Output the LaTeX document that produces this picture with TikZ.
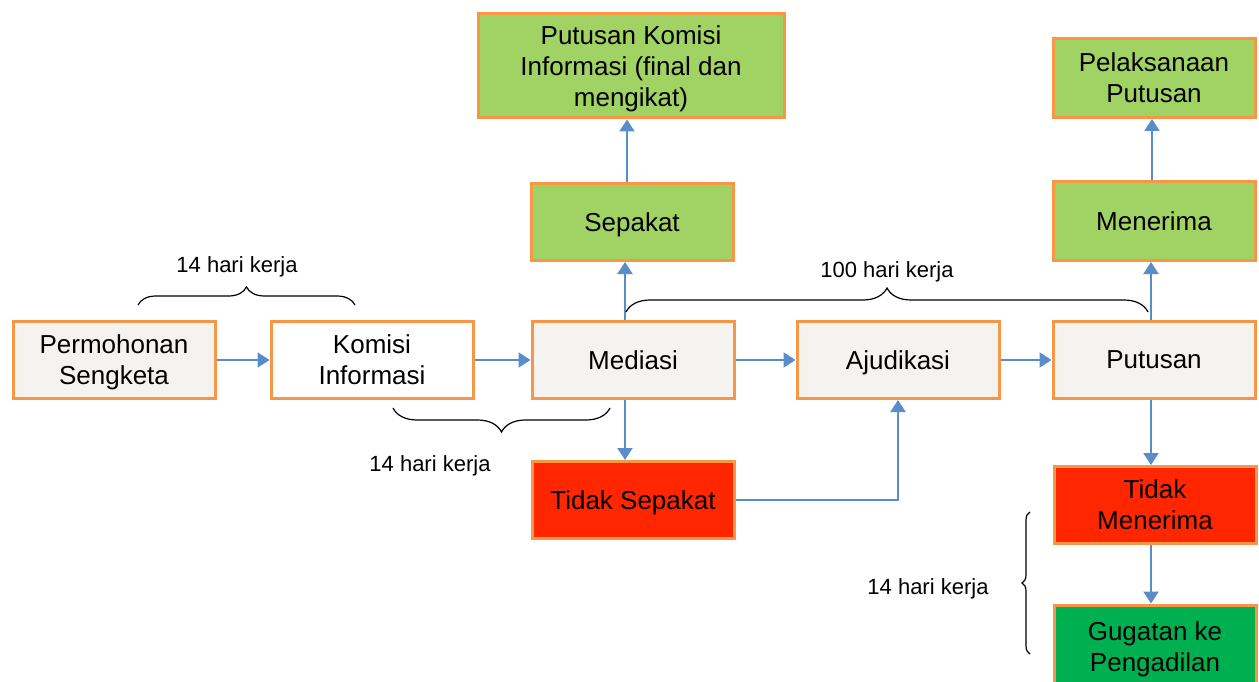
\documentclass[tikz,border=0pt]{standalone}
\usepackage{fontspec}
\setmainfont{Liberation Sans}
\usetikzlibrary{arrows.meta,decorations.pathreplacing}
\definecolor{boxorange}{RGB}{247,150,70}
\definecolor{procgrey}{RGB}{245,243,239}
\definecolor{okgreen}{RGB}{160,210,100}
\definecolor{nored}{RGB}{255,38,0}
\definecolor{gogreen}{RGB}{0,176,80}
\definecolor{arrowblue}{RGB}{87,141,200}
\def\boxfont{\fontsize{26}{31}\selectfont}
\def\labfont{\fontsize{22}{26}\selectfont}
\def\hk{14 hari kerja}
\begin{document}
\begin{tikzpicture}[x=1pt,y=-1pt,
			proc/.style={draw=boxorange,line width=3pt,fill=procgrey,minimum width=202pt,minimum height=77pt,align=center,font=\boxfont,inner sep=0pt,text depth=0pt},
			okbox/.style={proc,fill=okgreen},
			nobox/.style={proc,fill=nored},
			gobox/.style={proc,fill=gogreen},
			arr/.style={-{Triangle[width=15pt,length=12pt]},draw=arrowblue,line width=2pt},
			brc/.style={decorate,decoration={brace,amplitude=#1},line width=1.2pt},
			lab/.style={font=\labfont}]
			\useasboundingbox (0,0) rectangle (1259,682);
			\clip (0,0) rectangle (1259,682);
			% main row
			\node [proc]				(Permohonan)	at (114,360)	{Permohonan\\Sengketa};
			\node [proc,fill=white]	(Komisi)			at (372,360)	{Komisi\\Informasi};
			\node [proc]				(Mediasi)		at (633,360)	{Mediasi};
			\node [proc]				(Ajudikasi)		at (898,360)	{Ajudikasi};
			\node [proc]				(Putusan)		at (1154,360)	{Putusan};
			% mediasi branches
			\node [okbox]				(Sepakat)		at (632,222)	{Sepakat};
			\node [okbox,minimum width=306pt,minimum height=104pt] (PutusanKI) at (631,66) {Putusan Komisi\\Informasi (final dan\\mengikat)};
			\node [nobox]				(TidakSepakat)	at (633,500)	{Tidak Sepakat};
			% putusan branches
			\node [okbox,minimum height=79pt]	(Menerima)		at (1154,221)	{Menerima};
			\node [okbox,minimum height=79pt]	(Pelaksanaan)	at (1154,78)	{Pelaksanaan\\Putusan};
			\node [nobox]				(TidakMenerima)	at (1155,505)	{Tidak\\Menerima};
			\node [gobox,minimum height=84pt]	(Gugatan)		at (1155,647)	{Gugatan ke\\Pengadilan};
			% connectors
			\draw [arr] (Permohonan) -- (Komisi);
			\draw [arr] (Komisi) -- (Mediasi);
			\draw [arr] (Mediasi) -- (Ajudikasi);
			\draw [arr] (Ajudikasi) -- (Putusan);
			\draw [arr] ([xshift=-8pt]Mediasi.north) -- ([xshift=-8pt]Mediasi.north |- Sepakat.south);
			\draw [arr] ([xshift=-5pt]Sepakat.north) -- ([xshift=-5pt]Sepakat.north |- PutusanKI.south);
			\draw [arr] ([xshift=-8pt]Mediasi.south) -- ([xshift=-8pt]Mediasi.south |- TidakSepakat.north);
			\draw [arr] (TidakSepakat.east) -| (Ajudikasi.south);
			\draw [arr] ([xshift=-3pt]Putusan.north) -- ([xshift=-3pt]Putusan.north |- Menerima.south);
			\draw [arr] ([xshift=-2pt]Menerima.north) -- ([xshift=-2pt]Menerima.north |- Pelaksanaan.south);
			\draw [arr] ([xshift=-3pt]Putusan.south) -- ([xshift=-3pt]Putusan.south |- TidakMenerima.north);
			\draw [arr] ([xshift=-4pt]TidakMenerima.south) -- ([xshift=-4pt]TidakMenerima.south |- Gugatan.north);
			% durations
			\draw [brc=18pt] (138,305) -- (355,305);
				\node [lab] (hk1) at (237,267) {\hk};
			\draw [brc=24pt,decoration={mirror}] (393,408) -- (610,408);
				\node [lab] (hk2) at (430,466) {\hk};
			\draw [brc=24pt] (626,312) -- (1148,312);
				\node [lab] (hk3) at (887,272) {100 hari kerja};
			\draw [brc=8pt] (1030,654) -- (1030,512);
				\node [lab] (hk4) at (928,589) {\hk};
		\end{tikzpicture}
\end{document}
